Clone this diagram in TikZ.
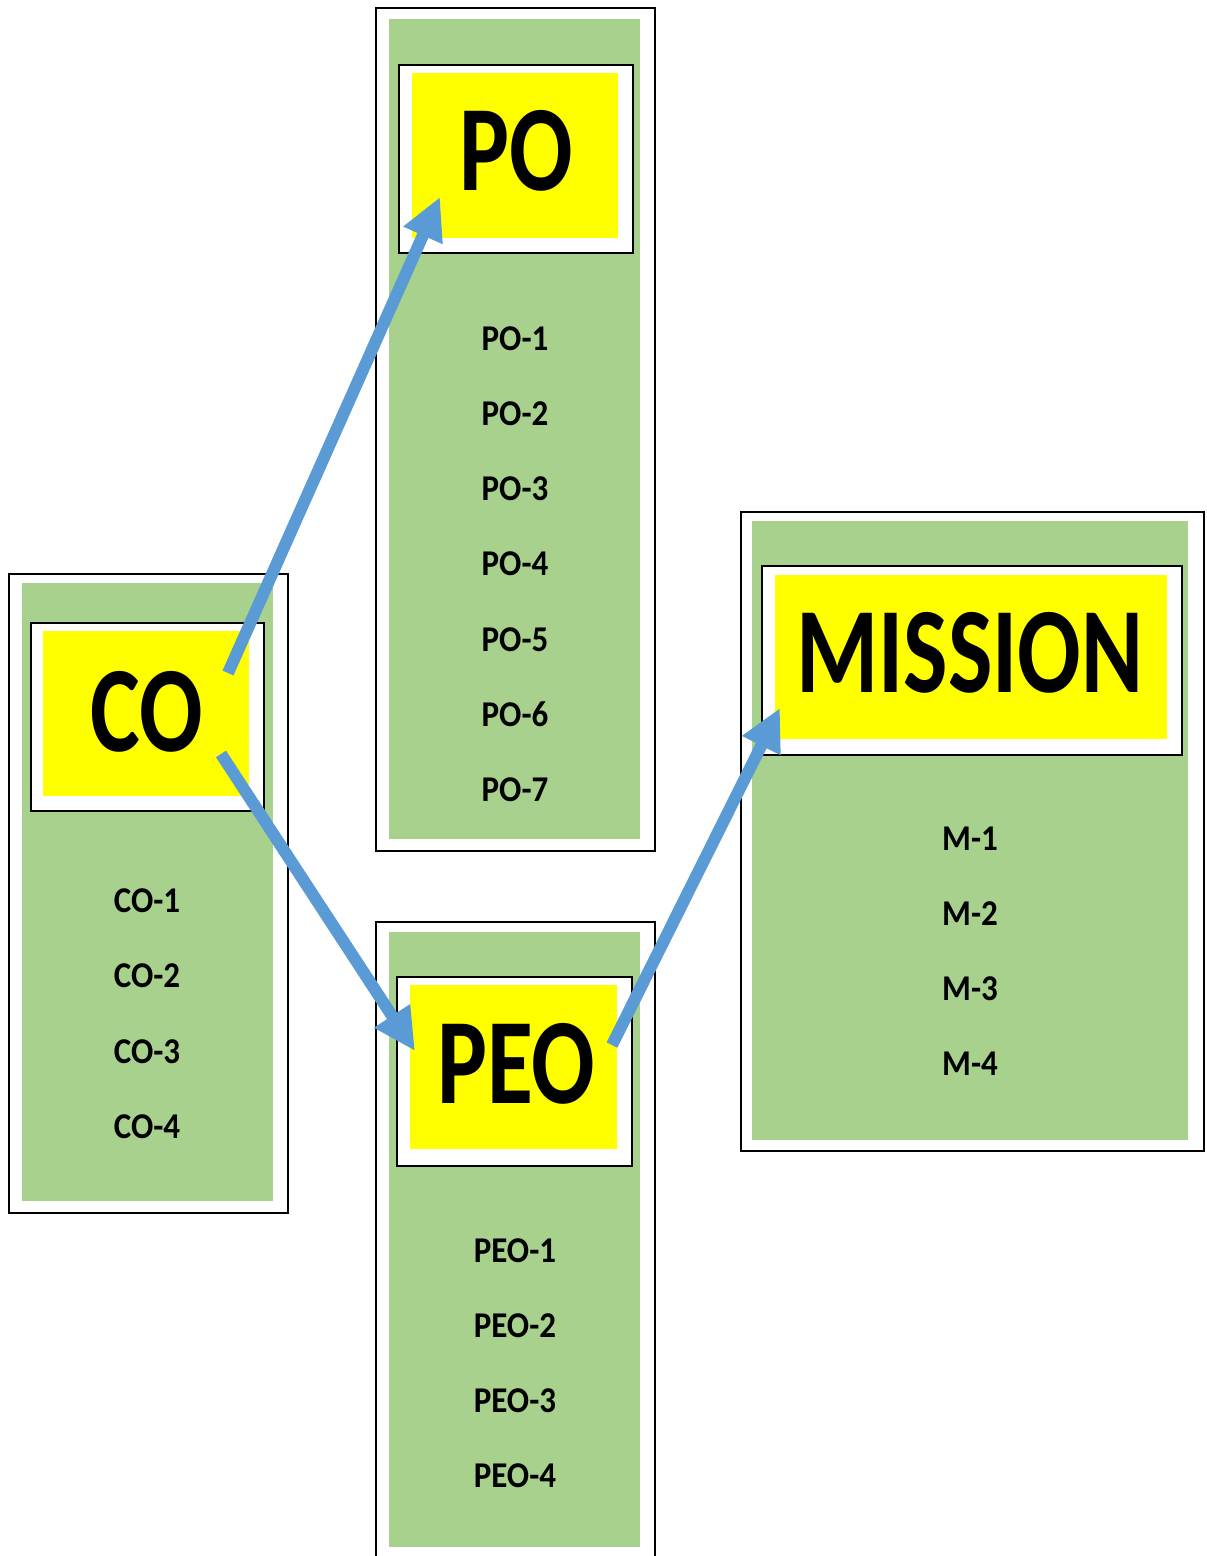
\documentclass[tikz,border=0pt]{standalone}
\usepackage{fontspec}
\setmainfont{Carlito}
\usetikzlibrary{arrows.meta,calc}
\definecolor{boxgreen}{HTML}{A9D18E}
\definecolor{arrowblue}{HTML}{5B9BD5}
\definecolor{hdryellow}{HTML}{FFFF00}
\newcommand{\bigtxt}[1]{\scalebox{1}[1.3]{\fontsize{94}{94}\selectfont\bfseries #1}}
\newcommand{\smalltxt}[1]{\scalebox{1}[1.1]{\fontsize{33}{33}\selectfont\bfseries #1}}
\begin{document}
\begin{tikzpicture}[x=1pt,y=-1pt,
  box/.style={inner sep=0pt, outer sep=0pt, anchor=north west},
  frame/.style={box, draw=black, line width=2pt, fill=white},
  greenbox/.style={box, fill=boxgreen},
  yellowbox/.style={box, fill=hdryellow},
  title/.style={anchor=base, inner sep=0pt},
  item/.style={anchor=base, inner sep=0pt},
  arr/.style={draw=arrowblue, line width=12pt, -{Triangle[length=42pt,width=40pt]}}]
\useasboundingbox (0,0) rectangle (1207,1556);
\clip (0,0) rectangle (1207,1556);
\fill[white] (0,0) rectangle (1207,1556);

% CO
\node[frame, minimum width=279pt, minimum height=639pt] (coF) at (9,574) {};
\node[greenbox, minimum width=251pt, minimum height=618pt] (coG) at (22,583) {};
\node[frame, minimum width=233pt, minimum height=188pt] (coW) at (31,623) {};
\node[yellowbox, minimum width=206pt, minimum height=165pt] (coY) at (43,631) {};
\node[title] (coT) at (147,751) {\bigtxt{CO}};
\foreach \t [count=\i from 0] in {CO-1,CO-2,CO-3,CO-4}
  \node[item] (co\i) at (147,912+75.5*\i) {\smalltxt{\t}};

% PO
\node[frame, minimum width=279pt, minimum height=843pt] (poF) at (376,8) {};
\node[greenbox, minimum width=251pt, minimum height=820pt] (poG) at (389,19) {};
\node[frame, minimum width=234pt, minimum height=188pt] (poW) at (399,65) {};
\node[yellowbox, minimum width=206pt, minimum height=165pt] (poY) at (412,73) {};
\node[title] (poT) at (516,190) {\bigtxt{PO}};
\foreach \t [count=\i from 0] in {PO-1,PO-2,PO-3,PO-4,PO-5,PO-6,PO-7}
  \node[item] (po\i) at (515,350+75.3*\i) {\smalltxt{\t}};

% MISSION
\node[frame, minimum width=463pt, minimum height=639pt] (mF) at (741,512) {};
\node[greenbox, minimum width=436pt, minimum height=619pt] (mG) at (752,521) {};
\node[frame, minimum width=420pt, minimum height=189pt] (mW) at (762,566) {};
\node[yellowbox, minimum width=392pt, minimum height=164pt] (mY) at (775,575) {};
\node[title] (mT) at (970,692) {\bigtxt{MISSION}};
\foreach \t [count=\i from 0] in {M-1,M-2,M-3,M-4}
  \node[item] (m\i) at (970,850+75.3*\i) {\smalltxt{\t}};

% PEO
\node[frame, minimum width=279pt, minimum height=660pt] (peF) at (376,922) {};
\node[greenbox, minimum width=251pt, minimum height=615pt] (peG) at (389,932) {};
\node[frame, minimum width=235pt, minimum height=189pt] (peW) at (397,977) {};
\node[yellowbox, minimum width=207pt, minimum height=164pt] (peY) at (410,985) {};
\node[title] (peT) at (516,1103) {\bigtxt{PEO}};
\foreach \t [count=\i from 0] in {PEO-1,PEO-2,PEO-3,PEO-4}
  \node[item] (pe\i) at (515,1262+75*\i) {\smalltxt{\t}};

% arrows
\draw[arr] ($(coY.north east)+(-21,42)$) -- ($(poY.south west)+(28,-41)$);
\draw[arr] ($(coY.north east)+(-28,123)$) -- ($(peY.north west)+(5,66)$);
\draw[arr] ($(peY.north east)+(-5,60)$) -- ($(mY.south west)+(5,-31)$);
\end{tikzpicture}
\end{document}
